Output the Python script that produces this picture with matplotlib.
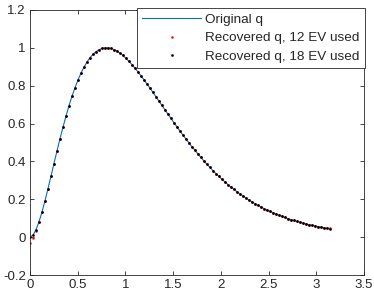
import numpy as np
import matplotlib
matplotlib.use('Agg')
import matplotlib.pyplot as plt

plt.rcParams['font.family'] = ['Liberation Sans', 'DejaVu Sans']

# sample positions: 101 points from 0 to pi
x_vals = np.linspace(0, np.pi, 101)

q_orig = [
    0.000, 0.011, 0.039, 0.081, 0.133, 0.192, 0.256, 0.322, 0.389, 0.455,
    0.520, 0.581, 0.639, 0.694, 0.744, 0.789, 0.830, 0.866, 0.898, 0.925,
    0.948, 0.966, 0.980, 0.990, 0.997, 1.000, 1.000, 0.997, 0.991, 0.983,
    0.972, 0.960, 0.945, 0.929, 0.912, 0.893, 0.874, 0.853, 0.832, 0.810,
    0.788, 0.765, 0.742, 0.719, 0.696, 0.673, 0.650, 0.628, 0.605, 0.583,
    0.561, 0.540, 0.519, 0.498, 0.478, 0.459, 0.440, 0.421, 0.403, 0.385,
    0.369, 0.352, 0.336, 0.321, 0.306, 0.292, 0.278, 0.265, 0.253, 0.240,
    0.229, 0.218, 0.207, 0.197, 0.187, 0.177, 0.168, 0.160, 0.151, 0.144,
    0.136, 0.129, 0.122, 0.116, 0.110, 0.104, 0.098, 0.093, 0.088, 0.083,
    0.079, 0.074, 0.070, 0.066, 0.063, 0.059, 0.056, 0.053, 0.050, 0.047,
    0.044,
]

# 12 eigenvectors: off near the left end and slightly at the right end
q_12ev = [-0.030, -0.005, 0.033] + q_orig[3:100] + [0.047]

# 18 eigenvectors: on top of the original
q_18ev = list(q_orig)

blue = '#0072BD'
dark = '#262626'

fig = plt.figure(figsize=(3.74, 2.99), dpi=100)
ax = fig.add_axes([30 / 374, 24 / 299, 334 / 374, 265 / 299])

ax.plot(x_vals, q_orig, color=blue, linewidth=0.8, label='Original q')
ax.plot(x_vals, q_12ev, linestyle='none', marker='o', markersize=1.8,
        markeredgewidth=0, color='#ff0000', label='Recovered q, 12 EV used')
ax.plot(x_vals, q_18ev, linestyle='none', marker='o', markersize=1.9,
        markeredgewidth=0, color='black', label='Recovered q, 18 EV used')

ax.set_xlim(0, 3.5)
ax.set_ylim(-0.2, 1.2)
ax.set_xticks(np.arange(0, 3.51, 0.5))
ax.set_xticklabels(['0', '0.5', '1', '1.5', '2', '2.5', '3', '3.5'])
ax.set_yticks(np.arange(-0.2, 1.21, 0.2))
ax.set_yticklabels(['-0.2', '0', '0.2', '0.4', '0.6', '0.8', '1', '1.2'])

ax.tick_params(direction='in', length=3, width=0.6, top=True, right=True,
               labelsize=9.5, colors=dark, pad=3)
for sp in ax.spines.values():
    sp.set_linewidth(0.6)
    sp.set_color(dark)

leg = ax.legend(loc='upper right', bbox_to_anchor=(365 / 374, 1 - 8 / 299),
                bbox_transform=fig.transFigure, borderaxespad=0,
                fontsize=9.7, frameon=True, fancybox=False, framealpha=1,
                handlelength=4.4, handletextpad=0.3, labelspacing=0.45,
                borderpad=0.4, markerscale=1.0)
leg.get_frame().set_edgecolor(dark)
leg.get_frame().set_linewidth(0.6)
for t in leg.get_texts():
    t.set_color(dark)

fig.savefig('out.png', dpi=100)
